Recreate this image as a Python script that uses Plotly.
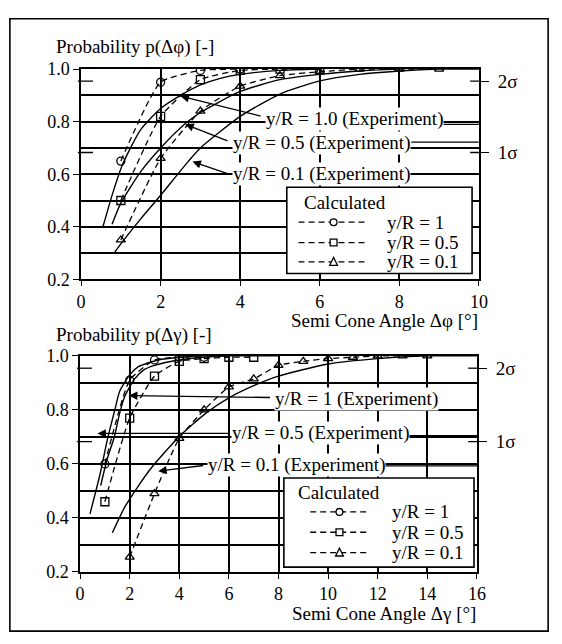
import plotly.graph_objects as go

# ---------------- Δφ panel: calculated (dashed, markers) ----------------
phi_r10_calc_x = [1, 2, 3, 4]
phi_r10_calc_y = [0.65, 0.95, 0.995, 1.0]
phi_r05_calc_x = [1, 2, 3, 4, 5, 6]
phi_r05_calc_y = [0.50, 0.82, 0.96, 0.995, 1.0, 1.0]
phi_r01_calc_x = [1, 2, 3, 4, 5, 6, 7, 8, 9]
phi_r01_calc_y = [0.35, 0.66, 0.84, 0.935, 0.975, 0.99, 1.0, 1.0, 1.0]

# ---------------- Δφ panel: experiment (solid) ----------------
phi_r10_exp_x = [0.55, 0.8, 1.05, 1.5, 2.0, 2.5, 3.0, 3.5, 4.0, 5.0, 6.0]
phi_r10_exp_y = [0.40, 0.53, 0.64, 0.77, 0.85, 0.90, 0.94, 0.965, 0.98, 0.995, 1.0]
phi_r05_exp_x = [0.78, 1.0, 1.5, 2.0, 2.6, 3.0, 4.0, 5.0, 6.0, 7.0, 8.0]
phi_r05_exp_y = [0.41, 0.49, 0.61, 0.70, 0.79, 0.835, 0.915, 0.96, 0.98, 0.993, 1.0]
phi_r01_exp_x = [0.83, 1.0, 1.5, 2.0, 2.7, 3.0, 4.0, 5.0, 6.0, 7.0, 8.0, 9.0, 10.0]
phi_r01_exp_y = [0.30, 0.335, 0.43, 0.52, 0.65, 0.70, 0.82, 0.905, 0.955, 0.98, 0.993, 1.0, 1.0]

# ---------------- Δγ panel: calculated ----------------
gam_r10_calc_x = [1, 2, 3, 4, 5]
gam_r10_calc_y = [0.60, 0.91, 0.985, 0.995, 0.995]
gam_r05_calc_x = [1, 2, 3, 4, 5, 6, 7]
gam_r05_calc_y = [0.46, 0.77, 0.925, 0.98, 0.99, 0.995, 0.995]
gam_r01_calc_x = [2, 3, 4, 5, 6, 7, 8, 9, 10, 11, 12, 13, 14]
gam_r01_calc_y = [0.255, 0.49, 0.695, 0.80, 0.885, 0.915, 0.965, 0.98, 0.99, 0.995, 1.0, 1.0, 1.0]

# ---------------- Δγ panel: experiment ----------------
gam_r10_exp_x = [0.4, 0.8, 1.1, 1.4, 1.6, 2.0, 2.35, 3.15, 4.0, 5.0, 6.0]
gam_r10_exp_y = [0.415, 0.56, 0.69, 0.80, 0.87, 0.93, 0.96, 0.985, 0.995, 1.0, 1.0]
gam_r05_exp_x = [0.83, 1.1, 1.38, 1.6, 1.8, 2.2, 2.6, 3.0, 4.0, 5.0, 6.0, 8.0]
gam_r05_exp_y = [0.52, 0.62, 0.70, 0.79, 0.85, 0.915, 0.95, 0.965, 0.985, 0.995, 1.0, 1.0]
gam_r01_exp_x = [1.3, 1.8, 2.36, 2.87, 3.98, 5.1, 6.0, 7.0, 8.0, 10.0, 12.0, 14.0, 16.0]
gam_r01_exp_y = [0.345, 0.44, 0.52, 0.585, 0.70, 0.79, 0.845, 0.89, 0.925, 0.97, 0.99, 1.0, 1.0]

legend_names = ["y/R = 1", "y/R = 0.5", "y/R = 0.1"]
legend_title = "Calculated"
calc_symbols = ["circle-open", "square-open", "triangle-up-open"]
sigma_vals = [0.9545, 0.6827]
sigma_text = ["2σ", "1σ"]
y_ticks = [0.2, 0.4, 0.6, 0.8, 1.0]
y_ticktext = ["0.2", "0.4", "0.6", "0.8", "1.0"]

FONT = "Liberation Serif"
FS = 18
AFS = 19
W, H = 562, 644


def px(x):
    return x / W


def py(y):
    return 1 - y / H


fig = go.Figure()


def add_calc(x, y, name, symbol, xa, ya):
    fig.add_trace(go.Scatter(
        x=x, y=y, name=name, mode="lines+markers", xaxis=xa, yaxis=ya, showlegend=False,
        cliponaxis=True,
        line=dict(color="black", width=1.3, dash="6px,4px", shape="spline", smoothing=0.5),
        marker=dict(symbol=symbol, size=8, color="black", line=dict(width=1.3, color="black")),
    ))


def add_exp(x, y, xa, ya):
    fig.add_trace(go.Scatter(
        x=x, y=y, mode="lines", xaxis=xa, yaxis=ya, showlegend=False,
        line=dict(color="black", width=1.4, shape="spline", smoothing=0.6),
    ))


# top panel
for (x, y), nm, sym in zip([(phi_r10_calc_x, phi_r10_calc_y), (phi_r05_calc_x, phi_r05_calc_y),
                            (phi_r01_calc_x, phi_r01_calc_y)], legend_names, calc_symbols):
    add_calc(x, y, nm, sym, "x", "y")
for x, y in [(phi_r10_exp_x, phi_r10_exp_y), (phi_r05_exp_x, phi_r05_exp_y), (phi_r01_exp_x, phi_r01_exp_y)]:
    add_exp(x, y, "x", "y")

# bottom panel
for (x, y), nm, sym in zip([(gam_r10_calc_x, gam_r10_calc_y), (gam_r05_calc_x, gam_r05_calc_y),
                            (gam_r01_calc_x, gam_r01_calc_y)], legend_names, calc_symbols):
    add_calc(x, y, nm, sym, "x2", "y2")
for x, y in [(gam_r10_exp_x, gam_r10_exp_y), (gam_r05_exp_x, gam_r05_exp_y), (gam_r01_exp_x, gam_r01_exp_y)]:
    add_exp(x, y, "x2", "y2")

# empty traces so the right-hand sigma axes get drawn
fig.add_trace(go.Scatter(x=[], y=[], xaxis="x", yaxis="y3", showlegend=False))
fig.add_trace(go.Scatter(x=[], y=[], xaxis="x2", yaxis="y4", showlegend=False))

tickfont = dict(family=FONT, size=FS, color="black")


def xaxis_style(domain, anchor, rng, dtick):
    return dict(domain=domain, anchor=anchor, range=rng, dtick=dtick, tick0=0,
                showline=True, mirror=True, linecolor="black", linewidth=1.6,
                showgrid=True, gridcolor="black", gridwidth=1.5,
                ticks="outside", ticklen=5, tickwidth=1.3, tickcolor="black",
                tickfont=tickfont, zeroline=False, fixedrange=True)


def yaxis_style(domain, anchor):
    return dict(domain=domain, anchor=anchor, range=[0.2, 1.0],
                tickvals=y_ticks, ticktext=y_ticktext,
                showline=True, mirror=True, linecolor="black", linewidth=1.6,
                showgrid=True, gridcolor="black", gridwidth=1.5,
                minor=dict(dtick=0.1, tick0=0.2, showgrid=True, gridcolor="black", gridwidth=1.5),
                ticks="outside", ticklen=6, tickwidth=1.3, tickcolor="black",
                tickfont=tickfont, zeroline=False, fixedrange=True)


def sigma_axis(over, anchor):
    return dict(overlaying=over, anchor=anchor, side="right", range=[0.2, 1.0],
                tickvals=sigma_vals, ticktext=sigma_text, showgrid=False, showline=False,
                ticks="outside", ticklen=9, tickwidth=1.3, tickcolor="black",
                ticklabelstandoff=5,
                tickfont=dict(family=FONT, size=AFS, color="black"),
                zeroline=False, fixedrange=True)


fig.update_layout(
    width=W, height=H, margin=dict(l=0, r=0, t=0, b=0),
    paper_bgcolor="white", plot_bgcolor="white",
    font=dict(family=FONT, size=AFS, color="black"),
    xaxis=xaxis_style([px(78), px(486)], "y", [0, 10], 2),
    yaxis=yaxis_style([py(278), py(61)], "x"),
    xaxis2=xaxis_style([px(77), px(484)], "y2", [0, 16], 2),
    yaxis2=yaxis_style([py(580), py(357)], "x2"),
    yaxis3=sigma_axis("y", "x"),
    yaxis4=sigma_axis("y2", "x2"),
    showlegend=False,
)

shapes = []
ann = []

# crossing "+" marks for the sigma levels on both vertical axes
for xr, yr in [("x domain", "y"), ("x2 domain", "y2")]:
    for s in sigma_vals:
        shapes.append(dict(type="line", xref=xr, yref=yr, x0=-0.008, x1=0.03, y0=s, y1=s,
                           line=dict(color="black", width=1.3)))
        shapes.append(dict(type="line", xref=xr, yref=yr, x0=0.978, x1=1.0, y0=s, y1=s,
                           line=dict(color="black", width=1.3)))

# leader lines from label ends to the right border
for xr, yr, x0, x1, yv in [("x", "y", 9.1, 10, 0.79), ("x", "y", 8.3, 10, 0.722),
                           ("x", "y", 8.1, 10, 0.60),
                           ("x2", "y2", 13.2, 16, 0.705), ("x2", "y2", 11.9, 16, 0.593)]:
    shapes.append(dict(type="line", xref=xr, yref=yr, x0=x0, x1=x1,
                       y0=yv, y1=yv, line=dict(color="black", width=1.3)))


# boxed key for the calculated curves (pixel layout -> paper coordinates)
def key_box(left, top, right, bottom, title_x, title_y, rows_y, s0, s1, mx, text_x):
    shapes.append(dict(type="rect", xref="paper", yref="paper", x0=px(left), x1=px(right),
                       y0=py(bottom), y1=py(top), fillcolor="white",
                       line=dict(color="black", width=1.6), layer="above"))
    ann.append(dict(text=legend_title, xref="paper", yref="paper", x=px(title_x), y=py(title_y),
                    xanchor="left", yanchor="middle", showarrow=False))
    for ry, name, sym in zip(rows_y, legend_names, calc_symbols):
        shapes.append(dict(type="line", xref="paper", yref="paper", x0=px(s0), x1=px(s1),
                           y0=py(ry), y1=py(ry), layer="above",
                           line=dict(color="black", width=1.3, dash="6px,4px")))
        mk = dict(xref="paper", yref="paper", fillcolor="white", layer="above",
                  line=dict(color="black", width=1.3))
        if sym.startswith("circle"):
            shapes.append(dict(type="circle", x0=px(mx - 3.5), x1=px(mx + 3.5),
                               y0=py(ry + 3.5), y1=py(ry - 3.5), **mk))
        elif sym.startswith("square"):
            shapes.append(dict(type="rect", x0=px(mx - 3.5), x1=px(mx + 3.5),
                               y0=py(ry + 3.5), y1=py(ry - 3.5), **mk))
        else:
            path = "M {:.5f},{:.5f} L {:.5f},{:.5f} L {:.5f},{:.5f} Z".format(
                px(mx - 4), py(ry + 3.5), px(mx + 4), py(ry + 3.5), px(mx), py(ry - 4.5))
            shapes.append(dict(type="path", path=path, **mk))
        ann.append(dict(text=name, xref="paper", yref="paper", x=px(text_x), y=py(ry),
                        xanchor="left", yanchor="middle", showarrow=False,
                        font=dict(family=FONT, size=19)))


key_box(289, 183, 479, 272, 305, 199, [219, 240, 260], 301, 371, 337, 390)
key_box(286, 483, 481, 575, 298, 498, [518, 539, 560], 313, 371, 343, 395)

# outer frame
shapes.append(dict(type="rect", xref="paper", yref="paper", x0=px(5), x1=px(557),
                   y0=py(641), y1=py(9), line=dict(color="black", width=1.6)))
fig.update_layout(shapes=shapes)

# panel captions
ann.append(dict(text="Probability p(Δφ) [-]", xref="paper", yref="paper", x=px(50), y=py(38),
                xanchor="left", yanchor="middle", showarrow=False))
ann.append(dict(text="Probability p(Δγ) [-]", xref="paper", yref="paper", x=px(50), y=py(335),
                xanchor="left", yanchor="middle", showarrow=False))
ann.append(dict(text="Semi Cone Angle Δφ [°]", xref="paper", yref="paper", x=px(487), y=py(320),
                xanchor="right", yanchor="middle", showarrow=False))
ann.append(dict(text="Semi Cone Angle Δγ [°]", xref="paper", yref="paper", x=px(485), y=py(623),
                xanchor="right", yanchor="middle", showarrow=False))

# experiment labels with arrows
labels = [
    ("x", "y", "y/R = 1.0 (Experiment)", 4.63, 0.81, 2.5, 0.897, 4.55, 0.82),
    ("x", "y", "y/R = 0.5 (Experiment)", 3.8, 0.72, 2.62, 0.79, 3.72, 0.725),
    ("x", "y", "y/R = 0.1 (Experiment)", 3.8, 0.60, 2.8, 0.648, 3.72, 0.60),
    ("x2", "y2", "y/R = 1 (Experiment)", 7.8, 0.839, 1.97, 0.853, 7.72, 0.846),
    ("x2", "y2", "y/R = 0.5 (Experiment)", 6.1, 0.713, 0.7, 0.713, 6.02, 0.713),
    ("x2", "y2", "y/R = 0.1 (Experiment)", 5.1, 0.595, 3.15, 0.573, 5.02, 0.595),
]
for xr, yr, txt, tx, ty, hx, hy, sx, sy in labels:
    ann.append(dict(text=txt, xref=xr, yref=yr, x=tx, y=ty, xanchor="left", yanchor="middle",
                    showarrow=False, bgcolor="white", borderpad=0))
    ann.append(dict(text="", xref=xr, yref=yr, x=hx, y=hy, ax=sx, ay=sy, axref=xr, ayref=yr,
                    showarrow=True, arrowhead=2, arrowsize=1.3, arrowwidth=1.3, arrowcolor="black"))
fig.update_layout(annotations=ann)

fig.write_html("out.html")
